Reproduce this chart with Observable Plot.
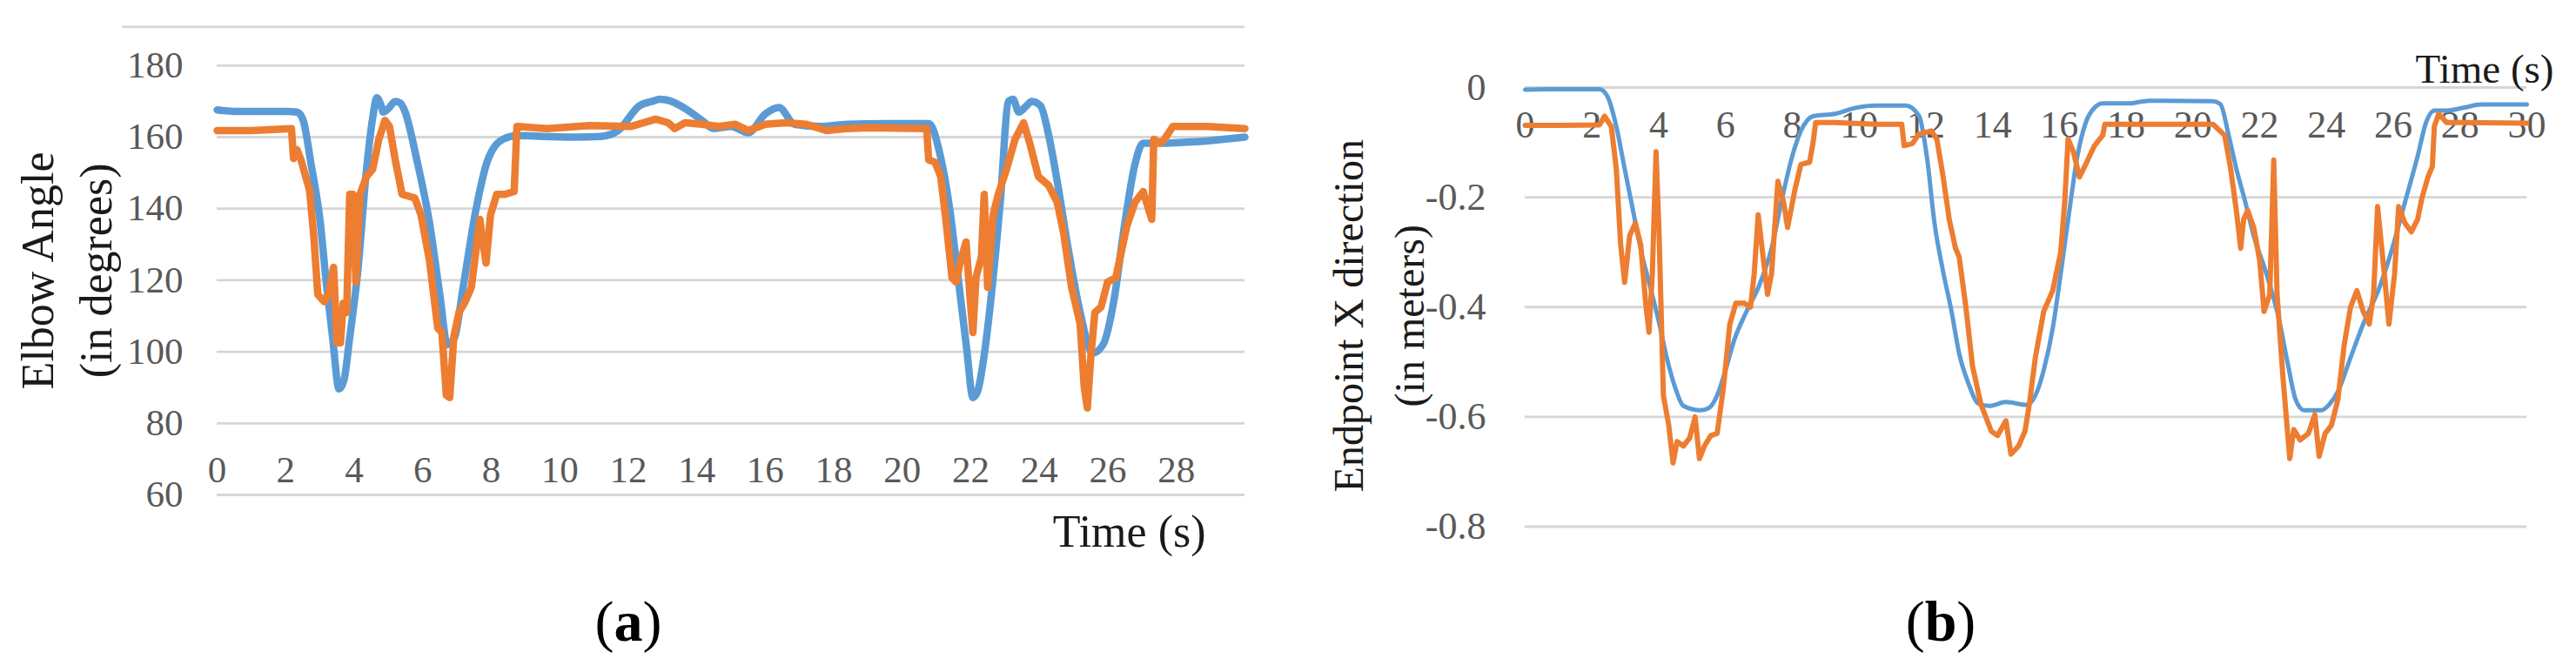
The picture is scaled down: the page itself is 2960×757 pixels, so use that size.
<!DOCTYPE html>
<html>
<head>
<meta charset="utf-8">
<script src="https://cdn.jsdelivr.net/npm/d3@7"></script>
<script src="https://cdn.jsdelivr.net/npm/@observablehq/plot@0.6"></script>
<style>
  html, body { margin: 0; padding: 0; background: #fff; }
  #fig { position: relative; width: 2960px; height: 757px; display: flex; background: #fff; overflow: hidden; }
  .cap { position: absolute; top: 681px; font-family: "Liberation Serif", "DejaVu Serif", serif; font-size: 66px; line-height: 66px; text-align: center; color: #000; }
</style>
</head>
<body>
<div id="fig"></div>
<script>
// ---------- Panel (a): Elbow angle ----------
const aXTicks = [0, 2, 4, 6, 8, 10, 12, 14, 16, 18, 20, 22, 24, 26, 28];
const aYTicks = [60, 80, 100, 120, 140, 160, 180];

const aBlueT = [0,0.5,1,2,2.33,2.5,2.75,3,3.2,3.37,3.56,3.7,3.87,4.1,4.36,4.55,4.66,4.78,4.85,5,5.2,5.35,5.46,5.83,6.2,6.5,6.72,6.93,7.18,7.55,7.9,8.34,8.77,9.5,10.5,11.2,11.7,12.33,12.7,12.92,13.2,13.66,14.15,14.5,15,15.5,16,16.4,16.85,17.6,18.4,19.5,20.78,21.08,21.39,21.6,21.88,22.06,22.2,22.38,22.6,22.86,23.1,23.23,23.4,23.6,23.78,24.03,24.27,24.52,24.82,25.19,25.55,25.86,26.17,26.48,26.79,27.03,27.65,28.3,28.87,29.5,30];
const aBlueV = [167.6,167.2,167.2,167.2,167,165,152,137,118,104,89.6,92,104,122,151,166,171,169,167,168,170,169.5,167.7,153.6,136,116,102,104,118,139.5,153.6,159.4,160.4,160.2,160,160.2,161.8,168.8,170,170.6,170.2,168,164.7,162.4,163,161.2,166.5,168.3,163.6,163,163.6,163.8,163.8,156,139.5,123,100.7,87.2,89,98.4,116,142,170,170.6,167,168.5,170,168.8,160.6,147.7,130,111,99.6,102,114,135,152.4,158.3,158.3,158.6,158.9,159.5,160];

const aOrangeT = [0,1,2.17,2.23,2.33,2.45,2.7,2.82,2.94,3.13,3.25,3.4,3.5,3.6,3.68,3.78,3.87,3.96,4.05,4.17,4.36,4.54,4.72,4.9,5.03,5.2,5.4,5.77,5.95,6.2,6.44,6.56,6.69,6.79,6.91,7.06,7.24,7.42,7.67,7.73,7.85,7.98,8.16,8.4,8.67,8.75,9.63,10.86,12.09,12.8,13.17,13.35,13.66,14.15,14.64,15.13,15.5,16,16.6,17.2,17.8,18.4,19,20.71,20.77,20.95,21.12,21.27,21.45,21.57,21.7,21.86,21.97,22.06,22.15,22.31,22.39,22.49,22.65,22.8,23.04,23.29,23.54,23.72,23.97,24.27,24.52,24.7,24.94,25.19,25.31,25.4,25.5,25.62,25.8,25.99,26.23,26.55,26.79,27.03,27.28,27.34,27.53,27.65,27.9,28.9,30];
const aOrangeV = [161.8,161.8,162.4,154,156.5,153.6,145,132.4,116,114,116,123.6,102.5,102.5,113.6,111,144,144,119.5,144,149,151,159.4,164.7,163,153.6,144,143,138.3,125.4,106.6,105.4,87.8,87.2,104.3,111,114,118,137,132.4,124.8,138.3,144,144,144.8,163,162.4,163.2,163,165,164,162.4,164,163.6,163,163.6,161.8,163.6,164,163.6,161.8,162.4,162.6,162.4,153.6,153,149,137,120.7,119.5,125.4,130.7,116,105.4,120.7,126.6,144,118,138.3,144,151,159.4,164,158.3,149,146.5,141.8,133.6,118,107.8,90,84.3,98.4,111,112.5,119.5,120.7,135,141.8,144.8,137,159.4,158.3,159.4,163,163,162.4];

// ---------- Panel (b): Endpoint X direction ----------
const bXTicks = [0, 2, 4, 6, 8, 10, 12, 14, 16, 18, 20, 22, 24, 26, 28, 30];
const bYTicks = [-0.8, -0.6, -0.4, -0.2, 0];

const bBlueT = [0,1,2.23,2.48,2.73,2.98,3.23,3.48,3.74,3.99,4.24,4.49,4.74,5.25,5.5,5.75,6,6.25,6.63,7,7.38,7.7,8,8.26,8.64,9.27,9.9,10.5,11.4,11.8,12.04,12.26,12.5,12.77,13,13.27,13.58,13.9,14.4,15.03,15.28,15.53,15.8,16.04,16.3,16.54,16.79,17.05,17.3,18.05,18.7,20.6,20.82,21.07,21.3,21.57,21.82,22.2,22.58,22.83,23.08,23.33,23.84,24.09,24.34,24.72,25.1,25.6,25.97,26.35,26.73,26.98,27.23,27.6,28.1,28.62,30];
const bBlueV = [-0.004,-0.003,-0.003,-0.018,-0.071,-0.148,-0.224,-0.3,-0.362,-0.423,-0.492,-0.546,-0.58,-0.588,-0.584,-0.561,-0.515,-0.462,-0.408,-0.362,-0.293,-0.201,-0.125,-0.079,-0.052,-0.048,-0.037,-0.033,-0.033,-0.052,-0.13,-0.247,-0.33,-0.408,-0.485,-0.538,-0.576,-0.58,-0.573,-0.578,-0.561,-0.515,-0.439,-0.339,-0.224,-0.125,-0.064,-0.037,-0.029,-0.029,-0.024,-0.025,-0.03,-0.087,-0.148,-0.209,-0.27,-0.339,-0.423,-0.5,-0.569,-0.588,-0.588,-0.577,-0.554,-0.492,-0.431,-0.362,-0.293,-0.209,-0.125,-0.064,-0.042,-0.042,-0.037,-0.031,-0.031];

const bOrangeT = [0,1,2.23,2.38,2.58,2.73,2.86,2.98,3.13,3.3,3.46,3.61,3.71,3.81,3.92,4.01,4.14,4.3,4.43,4.55,4.74,4.93,5.09,5.22,5.37,5.56,5.75,5.94,6.13,6.31,6.57,6.75,6.86,6.98,7.11,7.26,7.38,7.57,7.74,7.86,8.08,8.26,8.52,8.62,8.7,9.27,10.53,11.28,11.35,11.6,11.79,12.16,12.33,12.52,12.7,12.89,13,13.2,13.4,13.65,13.96,14.15,14.4,14.55,14.78,14.97,15.1,15.28,15.53,15.8,16.04,16.16,16.26,16.42,16.6,16.79,17.05,17.3,17.36,18.05,20.6,20.95,21.13,21.3,21.43,21.52,21.64,21.82,22,22.13,22.3,22.42,22.52,22.7,22.9,23.02,23.21,23.46,23.65,23.78,23.96,24.15,24.34,24.53,24.72,24.91,25.1,25.28,25.41,25.53,25.72,25.87,26.04,26.16,26.35,26.54,26.73,26.86,27.04,27.17,27.23,27.36,27.6,28.1,30];
const bOrangeV = [-0.069,-0.069,-0.068,-0.052,-0.071,-0.148,-0.286,-0.355,-0.27,-0.247,-0.286,-0.393,-0.446,-0.339,-0.117,-0.263,-0.561,-0.615,-0.684,-0.645,-0.653,-0.638,-0.6,-0.676,-0.653,-0.634,-0.63,-0.546,-0.431,-0.393,-0.393,-0.4,-0.339,-0.232,-0.3,-0.377,-0.339,-0.171,-0.209,-0.255,-0.186,-0.14,-0.136,-0.102,-0.064,-0.064,-0.067,-0.067,-0.106,-0.102,-0.085,-0.079,-0.094,-0.163,-0.24,-0.293,-0.309,-0.4,-0.508,-0.577,-0.626,-0.634,-0.607,-0.668,-0.653,-0.626,-0.577,-0.492,-0.408,-0.37,-0.3,-0.209,-0.094,-0.117,-0.163,-0.14,-0.106,-0.087,-0.067,-0.067,-0.067,-0.087,-0.148,-0.224,-0.293,-0.24,-0.224,-0.255,-0.316,-0.408,-0.377,-0.132,-0.377,-0.531,-0.676,-0.623,-0.642,-0.63,-0.596,-0.672,-0.63,-0.615,-0.569,-0.469,-0.4,-0.37,-0.408,-0.431,-0.377,-0.217,-0.332,-0.431,-0.339,-0.217,-0.247,-0.263,-0.24,-0.201,-0.163,-0.144,-0.071,-0.048,-0.064,-0.064,-0.065];

const BLUE = "#5B9BD5", ORANGE = "#ED7D31", GRID = "#d6d6d6", TICK = "#595959", TITLE = "#1a1a1a";
const FONT = "Liberation Serif, DejaVu Serif, serif";

const rows = (T, V) => T.map((t, i) => ({t, v: V[i]}));

const panelA = Plot.plot({
  width: 1480, height: 757,
  marginLeft: 249, marginRight: 50, marginTop: 74.8, marginBottom: 189,
  x: {domain: [0, 30], axis: null},
  y: {domain: [60, 180], axis: null},
  style: {fontFamily: FONT, background: "white", overflow: "visible"},
  marks: [
    Plot.ruleY([180], {stroke: GRID, strokeWidth: 2.8, dy: -44.4, insetLeft: -109}),
    Plot.ruleY(aYTicks, {stroke: GRID, strokeWidth: 2.8}),
    Plot.text(aYTicks, {y: d => d, text: d => String(d), frameAnchor: "left", textAnchor: "end", dx: -39, fontSize: 43, fill: TICK}),
    Plot.text(aXTicks, {x: d => d, text: d => String(d), frameAnchor: "bottom", lineAnchor: "middle", dy: -28, fontSize: 43, fill: TICK}),
    Plot.text(["Time (s)"], {frameAnchor: "bottom-right", textAnchor: "end", lineAnchor: "middle", dx: -45, dy: 43, fontSize: 52, fill: TITLE}),
    Plot.text(["Elbow Angle"], {frameAnchor: "left", rotate: -90, textAnchor: "middle", lineAnchor: "middle", dx: -205.5, dy: -11, fontSize: 52, fill: TITLE}),
    Plot.text(["(in degrees)"], {frameAnchor: "left", rotate: -90, textAnchor: "middle", lineAnchor: "middle", dx: -138, dy: -11, fontSize: 52, fill: TITLE}),
    Plot.line(rows(aBlueT, aBlueV), {x: "t", y: "v", stroke: BLUE, strokeWidth: 8.5, curve: "monotone-x", strokeLinejoin: "round", strokeLinecap: "round"}),
    Plot.line(rows(aOrangeT, aOrangeV), {x: "t", y: "v", stroke: ORANGE, strokeWidth: 8.5, strokeLinejoin: "round", strokeLinecap: "round"})
  ]
});

const fmtB = d => d === 0 ? "0" : d.toFixed(1);

const panelB = Plot.plot({
  width: 1480, height: 757,
  marginLeft: 272, marginRight: 57, marginTop: 100, marginBottom: 152.5,
  x: {domain: [0, 30], axis: null},
  y: {domain: [-0.8, 0], axis: null},
  style: {fontFamily: FONT, background: "white", overflow: "visible"},
  marks: [
    Plot.ruleY(bYTicks, {stroke: GRID, strokeWidth: 2.8}),
    Plot.text(bYTicks, {y: d => d, text: fmtB, frameAnchor: "left", textAnchor: "end", dx: -45, fontSize: 44, fill: TICK}),
    Plot.text(bXTicks, {x: d => d, text: d => String(d), frameAnchor: "top", lineAnchor: "middle", dy: 43.4, fontSize: 44, fill: TICK}),
    Plot.text(["Time (s)"], {frameAnchor: "top-right", textAnchor: "end", lineAnchor: "middle", dx: 31, dy: -20.3, fontSize: 47, fill: TITLE}),
    Plot.text(["Endpoint X direction"], {frameAnchor: "left", rotate: -90, textAnchor: "middle", lineAnchor: "middle", dx: -202, dy: 10, fontSize: 48, fill: TITLE}),
    Plot.text(["(in meters)"], {frameAnchor: "left", rotate: -90, textAnchor: "middle", lineAnchor: "middle", dx: -132, dy: 10, fontSize: 48, fill: TITLE}),
    Plot.line(rows(bBlueT, bBlueV), {x: "t", y: "v", stroke: BLUE, strokeWidth: 5, curve: "monotone-x", strokeLinejoin: "round", strokeLinecap: "round"}),
    Plot.line(rows(bOrangeT, bOrangeV), {x: "t", y: "v", stroke: ORANGE, strokeWidth: 6, strokeLinejoin: "round", strokeLinecap: "round"})
  ]
});

const fig = document.getElementById("fig");
fig.appendChild(panelA);
fig.appendChild(panelB);

const capA = document.createElement("div");
capA.className = "cap";
capA.style.left = "0px"; capA.style.width = "1444px";
capA.innerHTML = "(<b>a</b>)";
fig.appendChild(capA);

const capB = document.createElement("div");
capB.className = "cap";
capB.style.left = "1500px"; capB.style.width = "1460px";
capB.innerHTML = "(<b>b</b>)";
fig.appendChild(capB);
</script>
</body>
</html>
